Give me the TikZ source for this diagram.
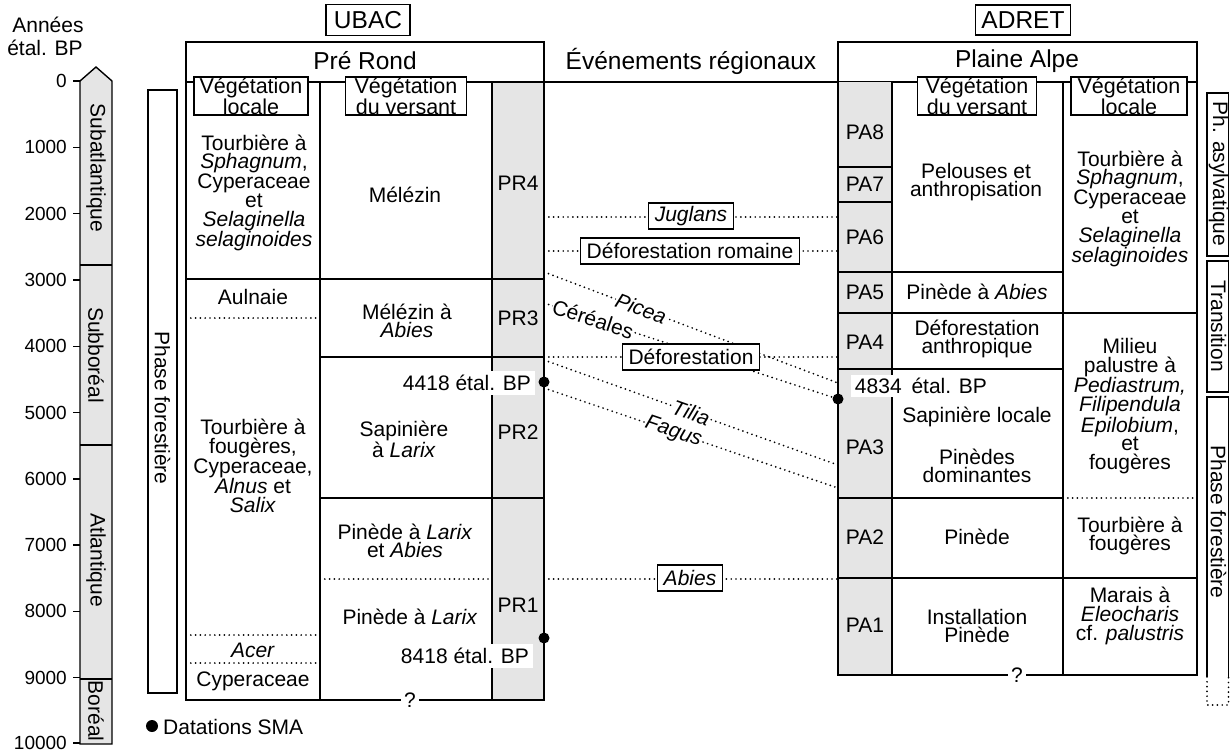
\documentclass[tikz,border=0pt]{standalone}
\usepackage{fontspec}
\setmainfont{Liberation Sans}
\definecolor{grayfill}{HTML}{E5E5E5}
\tikzset{
  txt/.style={font=\fontsize{21}{18.7}\selectfont, align=center, inner sep=0pt},
  hdr/.style={font=\fontsize{24.5}{26}\selectfont, inner sep=0pt},
  num/.style={font=\fontsize{19}{20}\selectfont, anchor=east, inner sep=0pt},
  vlab/.style={draw, fill=white, line width=1.3pt, font=\fontsize{21.5}{15}\selectfont, align=center, inner sep=0pt, minimum height=38pt},
  evt/.style={draw, fill=white, line width=1.3pt, font=\fontsize{21}{21}\selectfont, inner xsep=6pt, inner ysep=0pt, minimum height=26pt},
  tbox/.style={draw, line width=1.3pt, font=\fontsize{24.5}{26}\selectfont, inner sep=0pt},
  frame/.style={line width=1.4pt},
  dots/.style={line width=1.9pt, dash pattern=on 0pt off 4.8pt, line cap=round},
  dot/.style={circle, fill=black, inner sep=0pt, minimum size=11pt},
  rot/.style={rotate=-90},
  datebox/.style={fill=white, font=\fontsize{21}{21}\selectfont, inner xsep=4pt, inner ysep=4pt},
  slab/.style={sloped, fill=white, font=\fontsize{21}{21}\selectfont\itshape, inner sep=0.5pt},
}
\begin{document}
\begin{tikzpicture}[x=1pt,y=-1pt]
\useasboundingbox (0,0) rectangle (1230,752);

% ---------- time axis ----------
\node[txt] (annees) at (48,25) {Années};
\node[txt] (etal) at (45,48) {étal. BP};
\fill[grayfill] (80,744) -- (80,81) -- (96,67) -- (112,81) -- (112,744) -- cycle;
\draw[frame] (80,744) -- (80,81) -- (96,67) -- (112,81) -- (112,744) -- cycle;
\draw[frame] (80,265) -- (112,265);
\draw[frame] (80,445) -- (112,445);
\draw[frame] (80,679) -- (112,679);
\foreach \v/\yy in {0/81,1000/147.3,2000/213.6,3000/279.9,4000/346.2,5000/412.5,6000/478.8,7000/545.1,8000/611.4,9000/677.7,10000/743}{
  \draw[frame] (73,\yy) -- (80,\yy);
  \node[num] (t\v) at (67,\yy) {\v};
}
\node[txt, rot] (subatl) at (96,168) {Subatlantique};
\node[txt, rot] (subbor) at (96,355) {Subboréal};
\node[txt, rot] (atlant) at (96,560) {Atlantique};
\node[txt, rot] (boreal) at (96,711) {Boréal};

% left phase box
\draw[frame] (148,90) rectangle (177,693);
\node[txt, rot] (phaseL) at (162.5,408) {Phase forestière};

% ---------- top boxes ----------
\node[tbox, minimum width=84pt, minimum height=31pt] (ubac) at (368,20) {UBAC};
\node[tbox, minimum width=95pt, minimum height=30pt] (adret) at (1023,20) {ADRET};

% ---------- Pré Rond ----------
\fill[grayfill] (492,82) rectangle (544,700);
\draw[frame] (186,42) rectangle (544,700);
\draw[frame] (186,82) -- (1197,82);
\draw[frame] (320,82) -- (320,700);
\draw[frame] (492,82) -- (492,700);
\draw[frame] (186,279) -- (544,279);
\draw[frame] (320,357) -- (544,357);
\draw[frame] (320,498) -- (544,498);
\draw[dots] (186,318) -- (320,318);
\draw[dots] (320,579) -- (492,579);
\draw[dots] (186,635) -- (320,635);
\draw[dots] (186,663) -- (320,663);

\node[hdr] (prerond) at (365,61) {Pré Rond};
\node[vlab, minimum width=114pt] (prvl) at (251,96) {Végétation\\locale};
\node[vlab, minimum width=121pt] (prvv) at (406,96) {Végétation\\du versant};

\node[txt] (prl1) at (254,193) {Tourbière à\\\textit{Sphagnum},\\Cyperaceae\\et\\\textit{Selaginella}\\\textit{selaginoides}};
\node[txt] (prl2) at (253,297) {Aulnaie};
\node[txt] (prl3) at (253,466) {Tourbière à\\fougères,\\Cyperaceae,\\\textit{Alnus} et\\\textit{Salix}};
\node[txt] (prl4) at (253,650) {\textit{Acer}};
\node[txt] (prl5) at (253,681) {Cyperaceae};

\node[txt] (prv1) at (405,195) {Mélézin};
\node[txt] (prv2) at (407,321) {Mélézin à\\\textit{Abies}};
\node[txt] (prv3) at (404,439) {Sapinière\\à \textit{Larix}};
\node[txt] (prv4) at (405,541) {Pinède à \textit{Larix}\\et \textit{Abies}};
\node[txt] (prv5) at (410,617) {Pinède à \textit{Larix}};

\node[txt] (pr4) at (518,183) {PR4};
\node[txt] (pr3) at (518,318) {PR3};
\node[txt] (pr2) at (518,432) {PR2};
\node[txt] (pr1) at (518,605) {PR1};

\node[datebox] (d4418) at (467,383) {4418 étal. BP};
\node[datebox] (d8418) at (465,656) {8418 étal. BP};
\node[dot] (dot4418) at (544,382) {};
\node[dot] (dot8418) at (544,638) {};
\node[txt, fill=white, inner xsep=3pt] (qpr) at (410,700) {?};

\node[dot, minimum size=12pt] (legdot) at (152,726) {};
\node[txt, anchor=west] (legtxt) at (163,727) {Datations SMA};

% ---------- Plaine Alpe ----------
\fill[grayfill] (838,82) rectangle (892,675);
\draw[frame] (838,42) rectangle (1197,675);
\draw[frame] (892,82) -- (892,675);
\draw[frame] (1063,82) -- (1063,675);
\draw[frame] (838,167) -- (892,167);
\draw[frame] (838,202) -- (892,202);
\draw[frame] (838,272) -- (1063,272);
\draw[frame] (838,313) -- (1197,313);
\draw[frame] (838,369) -- (1063,369);
\draw[frame] (838,498) -- (1063,498);
\draw[dots] (1063,498) -- (1197,498);
\draw[frame] (838,578) -- (1197,578);

\node[hdr] (plaine) at (1017,61) {Plaine Alpe};
\node[vlab, minimum width=119pt] (pavv) at (977,96) {Végétation\\du versant};
\node[vlab, minimum width=116pt] (pavl) at (1129,96) {Végétation\\locale};

\node[txt] (pa8) at (865,132) {PA8};
\node[txt] (pa7) at (865,184) {PA7};
\node[txt] (pa6) at (865,237) {PA6};
\node[txt] (pa5) at (865,292) {PA5};
\node[txt] (pa4) at (865,342) {PA4};
\node[txt] (pa3) at (865,447) {PA3};
\node[txt] (pa2) at (865,537) {PA2};
\node[txt] (pa1) at (865,625) {PA1};

\node[txt] (pav1) at (976,182) {Pelouses et\\anthropisation};
\node[txt] (pav2) at (977,292) {Pinède à \textit{Abies}};
\node[txt] (pav3) at (977,339) {Déforestation\\anthropique};
\node[txt] (pav4) at (977,417) {Sapinière locale};
\node[txt] (pav5) at (977,466) {Pinèdes\\dominantes};
\node[txt] (pav6) at (977,537) {Pinède};
\node[txt] (pav7) at (977,626) {Installation\\Pinède};

\node[txt] (pal1) at (1130,209) {Tourbière à\\\textit{Sphagnum},\\Cyperaceae\\et\\\textit{Selaginella}\\\textit{selaginoides}};
\node[txt] (pal2) at (1130,406) {Milieu\\palustre à\\\textit{Pediastrum,}\\\textit{Filipendula}\\\textit{Epilobium},\\et\\fougères};
\node[txt] (pal3) at (1130,536) {Tourbière à\\fougères};
\node[txt] (pal4) at (1130,616) {Marais à\\\textit{Eleocharis}\\cf. \textit{palustris}};

\node[datebox, inner ysep=3pt] (d4834) at (921,386) {4834\hspace{4pt} étal. BP};
\node[dot] (dot4834) at (838,399) {};
\node[txt, fill=white, inner xsep=3pt] (qpa) at (1017,675) {?};

% ---------- right phase boxes ----------
\draw[frame] (1207,93) rectangle (1228.5,256);
\draw[frame] (1207,261) rectangle (1228.5,392);
\draw[frame] (1207,677) -- (1207,397) -- (1228.5,397) -- (1228.5,677);
\draw[dots] (1207,677) -- (1207,705) -- (1228.5,705) -- (1228.5,677);
\node[txt, rot] (phA) at (1218.5,174) {Ph. asylvatique};
\node[txt, rot] (phT) at (1218.5,326) {Transition};
\node[txt, rot] (phF) at (1218.5,522) {Phase forestière};

% ---------- regional events ----------
\node[hdr] (events) at (691,61) {Événements régionaux};
\coordinate (jugL) at (544,217);   \coordinate (jugR) at (838,217);
\coordinate (romL) at (544,251);   \coordinate (romR) at (838,251);
\coordinate (defL) at (544,357);   \coordinate (defR) at (838,357);
\coordinate (abiL) at (544,579);   \coordinate (abiR) at (838,579);
\coordinate (piceaL) at (544,272); \coordinate (piceaR) at (838,383);
\coordinate (cerL) at (544,303);
\coordinate (tiliaL) at (544,360); \coordinate (tiliaR) at (838,465);
\coordinate (fagusL) at (544,388); \coordinate (fagusR) at (838,488);

\draw[dots] (jugL) -- (jugR);
\draw[dots] (romL) -- (romR);
\draw[dots] (defL) -- (defR);
\draw[dots] (abiL) -- (abiR);
\draw[dots] (piceaL) -- node[slab, pos=0.33] (picea) {Picea} (piceaR);
\draw[dots] (cerL) -- node[slab, pos=0.17] (cereales) {\upshape Céréales} (dot4834);
\draw[dots] (tiliaL) -- node[slab, pos=0.5] (tilia) {Tilia} (tiliaR);
\draw[dots] (fagusL) -- node[slab, pos=0.44] (fagus) {Fagus} (fagusR);

\node[evt] (juglans) at (691,216) {\textit{Juglans}};
\node[evt] (romaine) at (690,251) {Déforestation romaine};
\node[evt] (deforest) at (691,357) {Déforestation};
\node[evt] (abies) at (690,578) {\textit{Abies}};
\end{tikzpicture}
\end{document}
